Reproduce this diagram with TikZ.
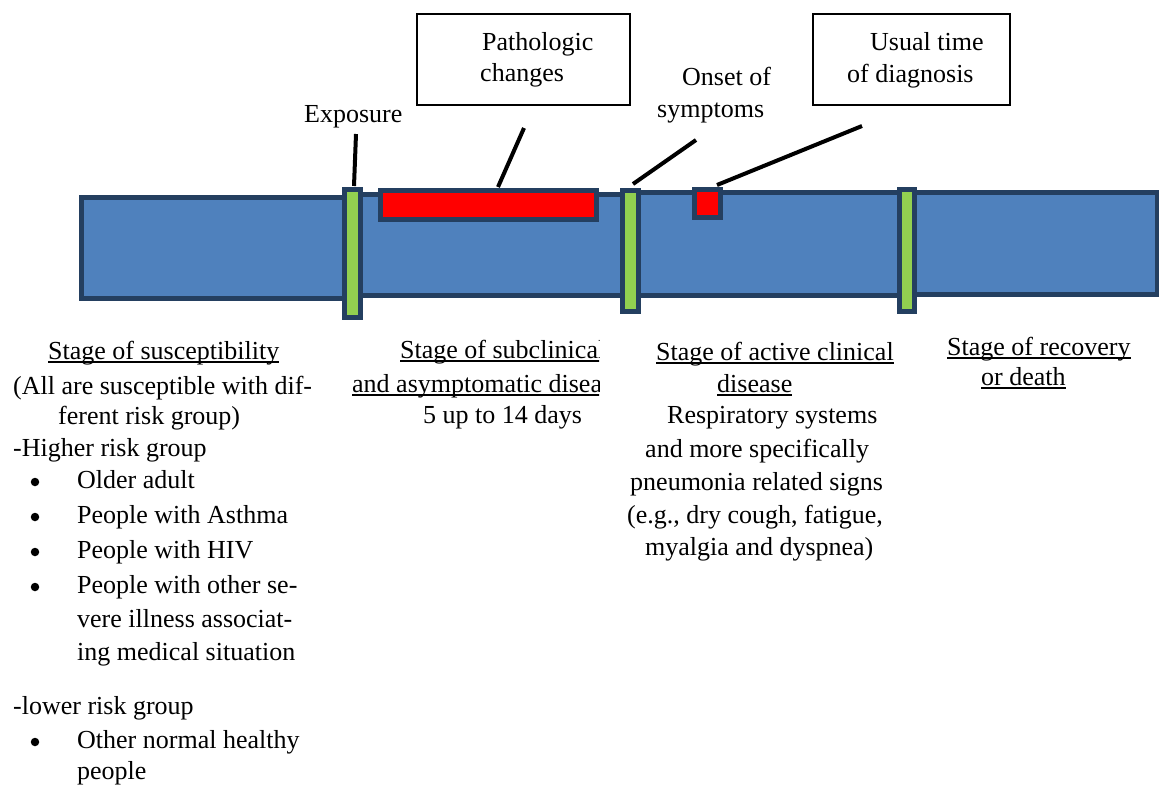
\documentclass[tikz,border=0pt]{standalone}
\usepackage{fontspec}
\setmainfont{Liberation Serif}
\definecolor{barblue}{HTML}{4F81BD}
\definecolor{barline}{HTML}{243F60}
\definecolor{bargreen}{HTML}{92D050}
\definecolor{barred}{HTML}{FF0000}
\newsavebox\ulbox
\newcommand\myul[1]{\sbox\ulbox{#1}\rlap{\rule[-3.6pt]{\wd\ulbox}{1.6pt}}\usebox\ulbox}
\begin{document}
\begin{tikzpicture}[x=1pt,y=-1pt,
  txt/.style={anchor=base west, inner sep=0pt, font=\fontsize{26}{34}\selectfont},
  dot/.style={circle, fill=black, inner sep=0pt, minimum size=8.5pt},
  seg/.style={fill=barblue, draw=barline, line width=5pt},
  greenbar/.style={fill=bargreen, draw=barline, line width=5pt},
  redbar/.style={fill=barred, draw=barline, line width=5pt},
  callout/.style={draw=black, line width=1.5pt, fill=white},
  lead/.style={draw=black, line width=4pt}]
\useasboundingbox (0,0) rectangle (1159,785);
% timeline segments
\draw[seg] (81.5,197.5) rectangle (345,298);
\draw[seg] (358,194.5) rectangle (625,295.5);
\draw[seg] (636,192) rectangle (902,295.5);
\draw[seg] (912,192.5) rectangle (1157,294);
% red bars
\draw[redbar] (380.5,190.5) rectangle (596.5,219.5);
\draw[redbar] (694.5,189.5) rectangle (720.5,217.5);
% green bars
\draw[greenbar] (344.5,189.5) rectangle (360.5,317.5);
\draw[greenbar] (622.5,190.5) rectangle (638.5,311.5);
\draw[greenbar] (899.5,189.5) rectangle (914.5,311.5);
% callout boxes
\draw[callout] (417,14) rectangle (630,105);
\draw[callout] (813,14) rectangle (1010,105);
% top labels
\node[txt] (path1) at (482,50) {Pathologic};
\node[txt] (path2) at (480,81) {changes};
\node[txt] (diag1) at (870,50) {Usual time};
\node[txt] (diag2) at (847,82) {of diagnosis};
\node[txt] (onset1) at (682,85) {Onset of};
\node[txt] (onset2) at (657,117) {symptoms};
\node[txt] (expo) at (304,122) {Exposure};
% leader lines
\coordinate (expA) at (356,134);   \coordinate (expB) at (354,186);
\coordinate (patA) at (524,128);   \coordinate (patB) at (498,187);
\coordinate (onsA) at (696,140);   \coordinate (onsB) at (633,184);
\coordinate (diaA) at (862,126);   \coordinate (diaB) at (717,185);
\draw[lead] (expA) -- (expB);
\draw[lead] (patA) -- (patB);
\draw[lead] (onsA) -- (onsB);
\draw[lead] (diaA) -- (diaB);
% stage of susceptibility
\node[txt] (s1) at (48,359) {\myul{Stage of susceptibility}};
\node[txt] (s2) at (13,394) {(All are susceptible with dif-};
\node[txt] (s3) at (58,424) {ferent risk group)};
\node[txt] (s4) at (13,456) {-Higher risk group};
\node[dot] (b1) at (35,482) {};
\node[txt] (s5) at (77,488) {Older adult};
\node[dot] (b2) at (35,517) {};
\node[txt] (s6) at (77,523) {People with Asthma};
\node[dot] (b3) at (35,552) {};
\node[txt] (s7) at (77,558) {People with HIV};
\node[dot] (b4) at (35,587) {};
\node[txt] (s8) at (77,593) {People with other se-};
\node[txt] (s9) at (77,627) {vere illness associat-};
\node[txt] (s10) at (77,660) {ing medical situation};
\node[txt] (s11) at (13,714) {-lower risk group};
\node[dot] (b5) at (35,742) {};
\node[txt] (s12) at (77,748) {Other normal healthy};
\node[txt] (s13) at (77,779) {people};
% stage of subclinical (clipped text box)
\begin{scope}
\clip (340,320) rectangle (599,440);
\node[txt] (c1) at (400,358) {\myul{Stage of subclinical}};
\node[txt] (c2) at (352,392) {\myul{and asymptomatic disease}};
\end{scope}
\node[txt] (c3) at (423,423) {5 up to 14 days};
% stage of active clinical disease
\node[txt] (a1) at (656,360) {\myul{Stage of active clinical}};
\node[txt] (a2) at (717,392) {\myul{disease}};
\node[txt] (a3) at (667,423) {Respiratory systems};
\node[txt] (a4) at (645,457) {and more specifically};
\node[txt] (a5) at (630,490) {pneumonia related signs};
\node[txt] (a6) at (627,523) {(e.g., dry cough, fatigue,};
\node[txt] (a7) at (645,555) {myalgia and dyspnea)};
% stage of recovery
\node[txt] (r1) at (947,355) {\myul{Stage of recovery}};
\node[txt] (r2) at (981,385) {\myul{or death}};
\end{tikzpicture}
\end{document}
